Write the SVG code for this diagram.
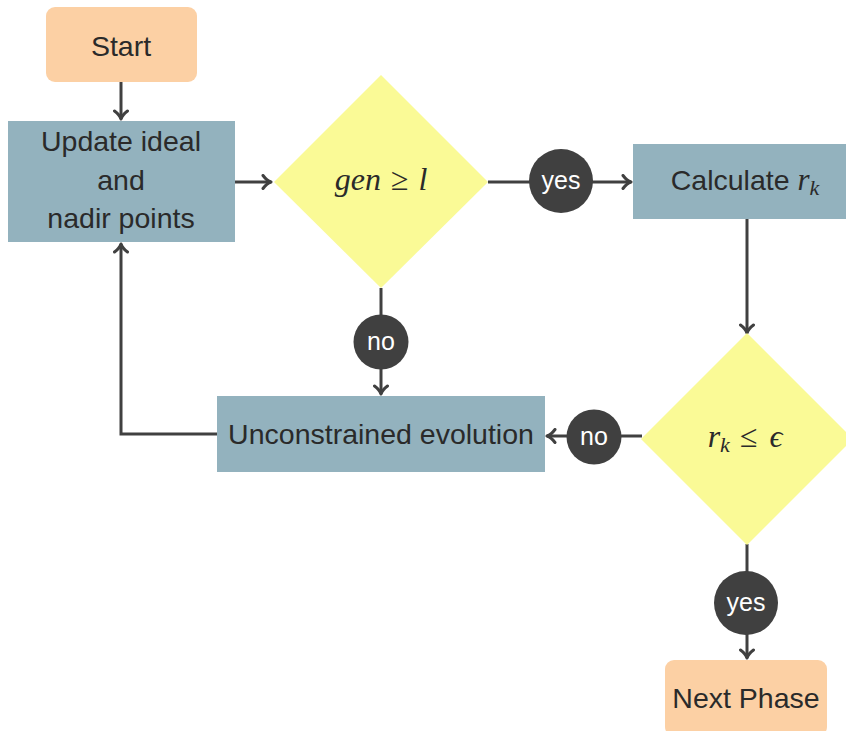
<svg xmlns="http://www.w3.org/2000/svg" width="846" height="731" viewBox="0 0 846 731">
  <defs>
    <style>
      .term { fill: #FCD0A4; }
      .proc { fill: #93B2BE; }
      .dec { fill: #FAFA96; }
      .lbl { fill: #404040; }
      .conn { stroke: #404040; stroke-width: 3; fill: none; }
      .t { font-family: "Liberation Sans", Arial, sans-serif; font-size: 28.5px; fill: #2a2a2a; text-anchor: middle; }
      .m { font-family: "Liberation Serif", "Times New Roman", serif; font-size: 32px; fill: #2a2a2a; text-anchor: middle; }
      .it { font-style: italic; }
      .lt { font-family: "Liberation Sans", Arial, sans-serif; font-size: 25px; fill: #ffffff; text-anchor: middle; }
    </style>
    <marker id="arr" markerUnits="userSpaceOnUse" markerWidth="14" markerHeight="16" viewBox="-11 -8 13 16" refX="0" refY="0" orient="auto">
      <path d="M-8,-6.5 C-5,-2.5 -2,-0.6 0,0 C-2,0.6 -5,2.5 -8,6.5" fill="none" stroke="#404040" stroke-width="3" stroke-linecap="round" stroke-linejoin="round"/>
    </marker>
  </defs>

  <g id="connectors">
    <line class="conn" x1="121" y1="82" x2="121" y2="119" marker-end="url(#arr)"/>
    <line class="conn" x1="235" y1="182" x2="271" y2="182" marker-end="url(#arr)"/>
    <line class="conn" x1="488" y1="182" x2="631" y2="182" marker-end="url(#arr)"/>
    <line class="conn" x1="381" y1="288" x2="381" y2="394" marker-end="url(#arr)"/>
    <line class="conn" x1="747" y1="219" x2="747" y2="333" marker-end="url(#arr)"/>
    <line class="conn" x1="642" y1="436" x2="547" y2="436" marker-end="url(#arr)"/>
    <polyline class="conn" points="217,434 121,434 121,244" marker-end="url(#arr)"/>
    <line class="conn" x1="747" y1="544" x2="747" y2="658" marker-end="url(#arr)"/>
  </g>

  <g id="start">
    <rect class="term" x="46" y="7" width="151" height="75" rx="9"/>
    <text class="t" x="121" y="56">Start</text>
  </g>

  <g id="update">
    <rect class="proc" x="8" y="121" width="227" height="121"/>
    <text class="t" x="121" y="151">Update ideal</text>
    <text class="t" x="121" y="190">and</text>
    <text class="t" x="121" y="228">nadir points</text>
  </g>

  <g id="decision1">
    <polygon class="dec" points="381,75 488,182 381,288 274,182"/>
    <text class="m" x="381" y="190"><tspan class="it">gen</tspan><tspan dx="10">≥</tspan><tspan class="it" dx="10">l</tspan></text>
  </g>

  <g id="calculate">
    <rect class="proc" x="633" y="144" width="228" height="75"/>
    <text class="t" x="745" y="190">Calculate <tspan font-family="Liberation Serif, serif" font-style="italic" font-size="31">r</tspan><tspan font-family="Liberation Serif, serif" font-style="italic" font-size="22" dy="5">k</tspan></text>
  </g>

  <g id="decision2">
    <polygon class="dec" points="747,333 853,439 747,545 641,439"/>
    <text class="m" x="745" y="447"><tspan class="it">r</tspan><tspan class="it" font-size="22" dy="5">k</tspan><tspan dy="-5" dx="10">≤</tspan><tspan class="it" dx="12">ϵ</tspan></text>
  </g>

  <g id="unconstrained">
    <rect class="proc" x="217" y="396" width="328" height="76"/>
    <text class="t" x="381" y="444">Unconstrained evolution</text>
  </g>

  <g id="next">
    <rect class="term" x="665" y="660" width="162" height="76" rx="9"/>
    <text class="t" x="746" y="708">Next Phase</text>
  </g>

  <g id="label-yes1">
    <circle class="lbl" cx="561" cy="181" r="32"/>
    <text class="lt" x="561" y="189">yes</text>
  </g>
  <g id="label-no1">
    <circle class="lbl" cx="381" cy="342" r="27.5"/>
    <text class="lt" x="381" y="350">no</text>
  </g>
  <g id="label-no2">
    <circle class="lbl" cx="594" cy="437" r="27.5"/>
    <text class="lt" x="594" y="445">no</text>
  </g>
  <g id="label-yes2">
    <circle class="lbl" cx="746" cy="603" r="32"/>
    <text class="lt" x="746" y="611">yes</text>
  </g>
</svg>
